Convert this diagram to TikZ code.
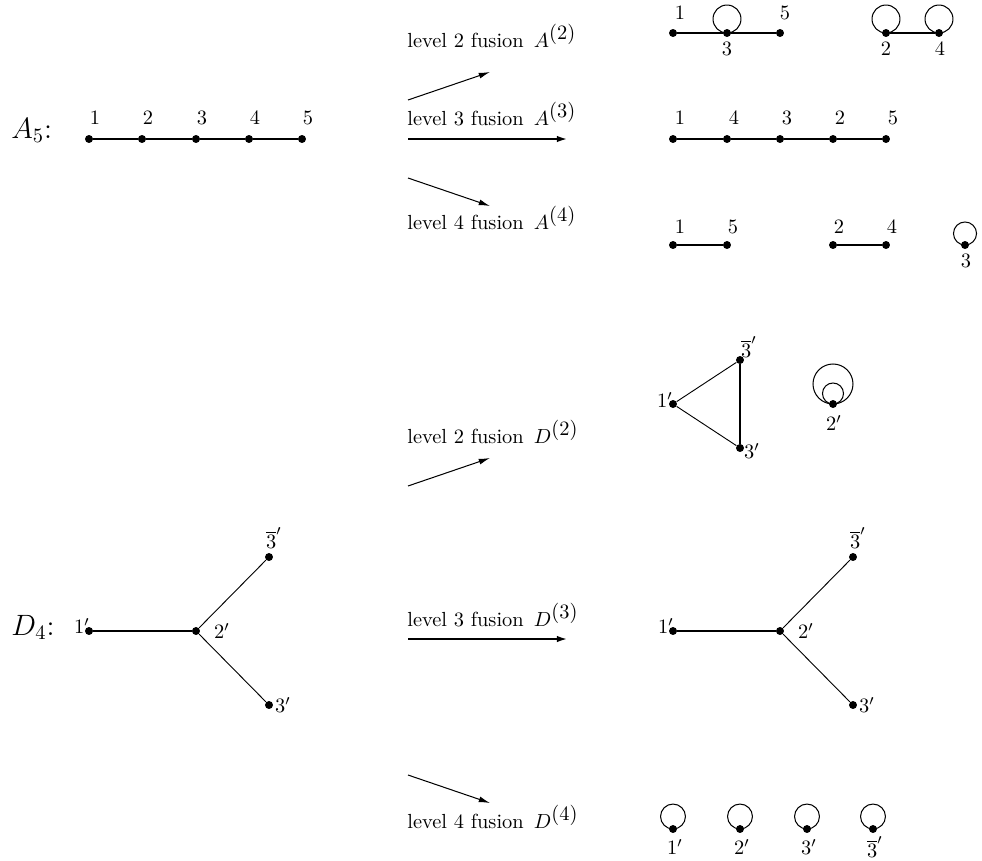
\documentclass[tikz,border=0pt]{standalone}
\usetikzlibrary{arrows.meta}
\newcommand{\fus}[2]{level #1 fusion\hspace{5pt}$#2^{\textstyle(#1)}$}
\begin{document}
\begin{tikzpicture}[x=0.49pt,y=-0.49pt,
  dot/.style={circle,fill=black,inner sep=0pt,minimum size=3.9pt},
  lbl/.style={inner sep=0pt},
  txt/.style={inner sep=0pt,anchor=base west},
  thk/.style={line width=0.95pt},
  thn/.style={line width=0.45pt},
  bigarrow/.style={line width=1.3pt,-{Latex[length=5.5pt,width=3.2pt]}},
  smallarrow/.style={line width=0.5pt,-{Latex[length=5.5pt,width=2.9pt]}},
  loopst/.style={line width=0.5pt}]
\useasboundingbox (0,0) rectangle (982,861);

% ===== A5 =====
\node[lbl,anchor=base west] (A5) at (11,138) {\Large $A_5$:};
\foreach \i/\x in {1/89,2/142,3/196,4/249,5/302}{
  \node[dot] (a\i) at (\x,139) {};
  \node[lbl] (la\i) at (\x+6,118) {$\i$};
}
\draw[thk] (a1) -- (a2) -- (a3) -- (a4) -- (a5);

% arrows A
\coordinate (aS1) at (408,100); \coordinate (aE1) at (490,72);
\coordinate (aS2) at (408,139); \coordinate (aE2) at (568,139);
\coordinate (aS3) at (408,178); \coordinate (aE3) at (490,206);
\draw[smallarrow] (aS1) -- (aE1);
\draw[bigarrow] (aS2) -- (aE2);
\draw[smallarrow] (aS3) -- (aE3);
\node[txt] (tA2) at (407,47) {\fus{2}{A}};
\node[txt] (tA3) at (407,125) {\fus{3}{A}};
\node[txt] (tA4) at (407,229) {\fus{4}{A}};

% level 2 A
\node[dot] (b1) at (673,33) {};
\node[dot] (b3) at (727,33) {};
\node[dot] (b5) at (780,33) {};
\draw[thk] (b1) -- (b3) -- (b5);
\draw[loopst] (b3.center) ++(0,-14) circle[radius=6.85pt];
\node[lbl] (lb1) at (680,13) {$1$};
\node[lbl] (lb5) at (785,13) {$5$};
\node[lbl] (lb3) at (727,49) {$3$};
\node[dot] (b2) at (886,33) {};
\node[dot] (b4) at (939,33) {};
\draw[thk] (b2) -- (b4);
\draw[loopst] (b2.center) ++(0,-14) circle[radius=6.85pt];
\draw[loopst] (b4.center) ++(0,-14) circle[radius=6.85pt];
\node[lbl] (lb2) at (886,49) {$2$};
\node[lbl] (lb4) at (940,49) {$4$};

% level 3 A
\foreach \n/\x [count=\k] in {1/673,4/727,3/780,2/833,5/886}{
  \node[dot] (c\k) at (\x,139) {};
  \node[lbl] (lc\k) at (\x+7,118) {$\n$};
}
\draw[thk] (c1) -- (c2) -- (c3) -- (c4) -- (c5);

% level 4 A
\node[dot] (d1) at (673,245) {};
\node[dot] (d5) at (727,245) {};
\draw[thk] (d1) -- (d5);
\node[lbl] (ld1) at (680,227) {$1$};
\node[lbl] (ld5) at (733,227) {$5$};
\node[dot] (d2) at (833,245) {};
\node[dot] (d4) at (886,245) {};
\draw[thk] (d2) -- (d4);
\node[lbl] (ld2) at (839,227) {$2$};
\node[lbl] (ld4) at (892,227) {$4$};
\node[dot] (d3) at (965,245) {};
\draw[loopst] (d3.center) ++(0,-11.5) circle[radius=5.65pt];
\node[lbl] (ld3) at (966,261) {$3$};

% ===== D4 =====
\node[lbl,anchor=base west] (D4) at (11,635) {\Large $D_4$:};
\node[dot] (e1) at (89,631) {};
\node[dot] (e2) at (196,631) {};
\node[dot] (et) at (269,557) {};
\node[dot] (eb) at (269,705) {};
\draw[thk] (e1) -- (e2);
\draw[thn] (e2) -- (et);
\draw[thn] (e2) -- (eb);
\node[lbl] (le1) at (82,626) {$1'$};
\node[lbl] (le2) at (222,631) {$2'$};
\node[lbl] (let) at (274,538) {$\overline{3}'$};
\node[lbl] (leb) at (283,705) {$3'$};

% arrows D
\coordinate (dS1) at (408,486); \coordinate (dE1) at (490,458);
\coordinate (dS2) at (408,639); \coordinate (dE2) at (568,639);
\coordinate (dS3) at (408,775); \coordinate (dE3) at (490,803);
\draw[smallarrow] (dS1) -- (dE1);
\draw[bigarrow] (dS2) -- (dE2);
\draw[smallarrow] (dS3) -- (dE3);
\node[txt] (tD2) at (407,443) {\fus{2}{D}};
\node[txt] (tD3) at (407,626) {\fus{3}{D}};
\node[txt] (tD4) at (407,828) {\fus{4}{D}};

% level 2 D
\node[dot] (f1) at (673,404) {};
\node[dot] (ft) at (740,360) {};
\node[dot] (fb) at (740,448) {};
\draw[thn] (f1) -- (ft);
\draw[thn] (f1) -- (fb);
\draw[thk] (ft) -- (fb);
\node[lbl] (lf1) at (665,400) {$1'$};
\node[lbl] (lft) at (749,347) {$\overline{3}'$};
\node[lbl] (lfb) at (752,451) {$3'$};
\node[dot] (f2) at (833,404) {};
\draw[loopst] (f2.center) ++(0,-20) circle[radius=9.8pt];
\draw[loopst] (f2.center) ++(0,-10.5) circle[radius=5.15pt];
\node[lbl] (lf2) at (834,423) {$2'$};

% level 3 D
\node[dot] (g1) at (673,631) {};
\node[dot] (g2) at (780,631) {};
\node[dot] (gt) at (853,557) {};
\node[dot] (gb) at (853,705) {};
\draw[thk] (g1) -- (g2);
\draw[thn] (g2) -- (gt);
\draw[thn] (g2) -- (gb);
\node[lbl] (lg1) at (666,626) {$1'$};
\node[lbl] (lg2) at (806,631) {$2'$};
\node[lbl] (lgt) at (858,538) {$\overline{3}'$};
\node[lbl] (lgb) at (867,705) {$3'$};

% level 4 D
\foreach \n/\x [count=\k] in {1'/673,2'/740,3'/807,\overline{3}'/873}{
  \node[dot] (h\k) at (\x,829) {};
  \draw[loopst] (h\k.center) ++(0,-12.5) circle[radius=6.1pt];
  \node[lbl] (lh\k) at (\x+2,847) {$\n$};
}
\end{tikzpicture}
\end{document}
